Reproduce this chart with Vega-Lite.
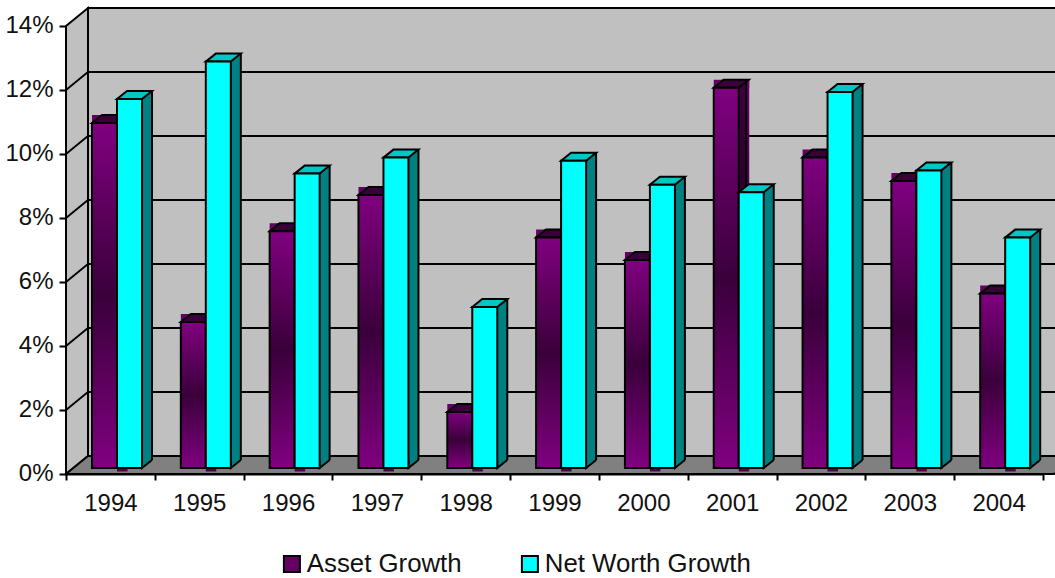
{
"$schema":"https://vega.github.io/schema/vega-lite/v6.json",
"width":989,"height":466,
"autosize":{"type":"none"},
"padding":{"left":66,"top":8,"right":0,"bottom":104},
"background":"white",
"config":{"view":{"stroke":null},"font":"Liberation Sans","axis":{"labelFont":"Liberation Sans","labelFontSize":24,"labelColor":"#111111","domainColor":"#000000","tickColor":"#000000","domainWidth":2,"tickWidth":2,"title":null,"grid":false,"zindex":1}},
"datasets":{
"growth":[
{"year":"1994","series":"Asset Growth","value":0.1078},{"year":"1995","series":"Asset Growth","value":0.0456},{"year":"1996","series":"Asset Growth","value":0.074},{"year":"1997","series":"Asset Growth","value":0.0853},{"year":"1998","series":"Asset Growth","value":0.0175},{"year":"1999","series":"Asset Growth","value":0.072},{"year":"2000","series":"Asset Growth","value":0.065},{"year":"2001","series":"Asset Growth","value":0.1188},{"year":"2002","series":"Asset Growth","value":0.097},{"year":"2003","series":"Asset Growth","value":0.0897},{"year":"2004","series":"Asset Growth","value":0.0545},
{"year":"1994","series":"Net Worth Growth","value":0.1153},{"year":"1995","series":"Net Worth Growth","value":0.127},{"year":"1996","series":"Net Worth Growth","value":0.092},{"year":"1997","series":"Net Worth Growth","value":0.097},{"year":"1998","series":"Net Worth Growth","value":0.0503},{"year":"1999","series":"Net Worth Growth","value":0.096},{"year":"2000","series":"Net Worth Growth","value":0.0885},{"year":"2001","series":"Net Worth Growth","value":0.0862},{"year":"2002","series":"Net Worth Growth","value":0.1175},{"year":"2003","series":"Net Worth Growth","value":0.093},{"year":"2004","series":"Net Worth Growth","value":0.072}
],
"ticks":[{"pct":0.02},{"pct":0.04},{"pct":0.06},{"pct":0.08},{"pct":0.1},{"pct":0.12}],
"origin":[{"pct":0}]
},
"data":{"name":"growth"},
"layer":[
{"data":{"name":"origin"},
 "mark":{"type":"point","shape":"M0 0L0 -448L22 -466L22 -18ZM22 -18L22 -466L1010 -466L1010 -18Z","size":4,"filled":true,"fill":"#C0C0C0","stroke":"#000000","strokeWidth":2,"opacity":1},
 "encoding":{"x":{"datum":"1994","type":"nominal","bandPosition":0},"y":{"field":"pct","type":"quantitative"}}},
{"data":{"name":"ticks"},
 "mark":{"type":"point","shape":"M0 0L22 -18L1010 -18","size":4,"filled":false,"fill":null,"stroke":"#000000","strokeWidth":1.8,"opacity":1},
 "encoding":{"x":{"datum":"1994","type":"nominal","bandPosition":0},"y":{"field":"pct","type":"quantitative"}}},
{"data":{"name":"origin"},
 "mark":{"type":"point","shape":"M0 0L22 -18L1010 -18L988 0Z","size":4,"filled":true,"fill":"#808080","stroke":"#000000","strokeWidth":2,"opacity":1},
 "encoding":{"x":{"datum":"1994","type":"nominal","bandPosition":0},"y":{"field":"pct","type":"quantitative"}}},
{"encoding":{
  "x":{"field":"year","type":"nominal","scale":{"domain":["1994","1995","1996","1997","1998","1999","2000","2001","2002","2003","2004"],"range":[0,977],"paddingInner":0,"paddingOuter":0},"axis":{"labelAngle":0,"labelAlign":"center","tickBand":"extent","tickSize":6,"labelPadding":23}},
  "y":{"field":"value","type":"quantitative","stack":null,"scale":{"domain":[0,0.14],"range":[466,18],"nice":false},"axis":{"format":".0%","values":[0,0.02,0.04,0.06,0.08,0.1,0.12,0.14],"tickSize":7,"labelPadding":6,"labelOffset":-1}},
  "y2":{"datum":0}
 },
 "layer":[
 {"transform":[{"filter":"datum.series==='Asset Growth'"}],
  "layer":[
  {"mark":{"type":"point","shape":"M12.5 0L23 0L23 3.5L12.5 3.5Z","size":4,"filled":true,"fill":"#500050","strokeWidth":0,"opacity":1,"xOffset":-5.9,"yOffset":-6},"encoding":{"y":{"datum":0},"y2":null}},
  {"mark":{"type":"point","shape":"M-12.5 0L-12.5 -8L23 -8L23 0Z","size":4,"filled":true,"fill":"#660066","strokeWidth":0,"opacity":1,"xOffset":-5.9,"yOffset":-6},"encoding":{"y2":null}},
  {"mark":{"type":"bar","size":25,"xOffset":4.6,"yOffset":-14,"y2Offset":-14,"fill":{"gradient":"linear","x1":0,"y1":0,"x2":0,"y2":1,"stops":[{"offset":0,"color":"#700070"},{"offset":0.5,"color":"#300030"},{"offset":1,"color":"#700070"}]}}},
  {"mark":{"type":"bar","size":25,"xOffset":1.6,"yOffset":-14,"y2Offset":-14,"fill":{"gradient":"linear","x1":0,"y1":0,"x2":0,"y2":1,"stops":[{"offset":0,"color":"#400040"},{"offset":0.5,"color":"#1c001c"},{"offset":1,"color":"#400040"}]}}},
  {"mark":{"type":"rule","color":"#000000","strokeWidth":2,"xOffset":14.1,"yOffset":-14,"y2Offset":-14}},
  {"mark":{"type":"point","shape":"M-12.5 0L12.5 0L22.5 -8L-2.5 -8Z","size":4,"filled":true,"fill":"#3A003A","stroke":"#000000","strokeWidth":2,"opacity":1,"xOffset":-5.9,"yOffset":-6},"encoding":{"y2":null}},
  {"mark":{"type":"bar","size":25,"xOffset":-5.9,"yOffset":-6,"y2Offset":-6,"stroke":"#000000","strokeWidth":2,"fill":{"gradient":"linear","x1":0,"y1":0,"x2":0,"y2":1,"stops":[{"offset":0,"color":"#800080"},{"offset":0.5,"color":"#3A003A"},{"offset":1,"color":"#800080"}]}}}
  ]},
 {"transform":[{"filter":"datum.series==='Net Worth Growth'"}],
  "layer":[
  {"mark":{"type":"bar","size":25,"xOffset":29.1,"yOffset":-14,"y2Offset":-14,"fill":"#008080"}},
  {"mark":{"type":"point","shape":"M12.5 -8L12.5 0L22.5 -8","size":4,"filled":true,"fill":"#008080","stroke":"#000000","strokeWidth":2,"opacity":1,"xOffset":19.1,"yOffset":-6},"encoding":{"y":{"datum":0},"y2":null}},
  {"mark":{"type":"rule","color":"#000000","strokeWidth":2,"xOffset":41.6,"yOffset":-14,"y2Offset":-14}},
  {"mark":{"type":"point","shape":"M-12.5 0L12.5 0L22.5 -8L-2.5 -8Z","size":4,"filled":true,"fill":"#00C6C6","stroke":"#000000","strokeWidth":2,"opacity":1,"xOffset":19.1,"yOffset":-6},"encoding":{"y2":null}},
  {"mark":{"type":"bar","size":25,"xOffset":19.1,"yOffset":-6,"y2Offset":-6,"stroke":"#000000","strokeWidth":2},
   "encoding":{"fill":{"field":"series","type":"nominal","scale":{"domain":["Asset Growth","Net Worth Growth"],"range":["#650065","#00FFFF"]},
     "legend":{"title":null,"orient":"none","legendX":213,"legendY":543,"direction":"horizontal","columns":2,"symbolType":"square","symbolSize":256,"symbolStrokeColor":"#000000","symbolStrokeWidth":2,"symbolOpacity":1,"labelFont":"Liberation Sans","labelFontSize":25.8,"labelColor":"#111111","labelLimit":400,"labelOffset":2,"columnPadding":55,"padding":0}}}}
  ]}
 ]}
]}
